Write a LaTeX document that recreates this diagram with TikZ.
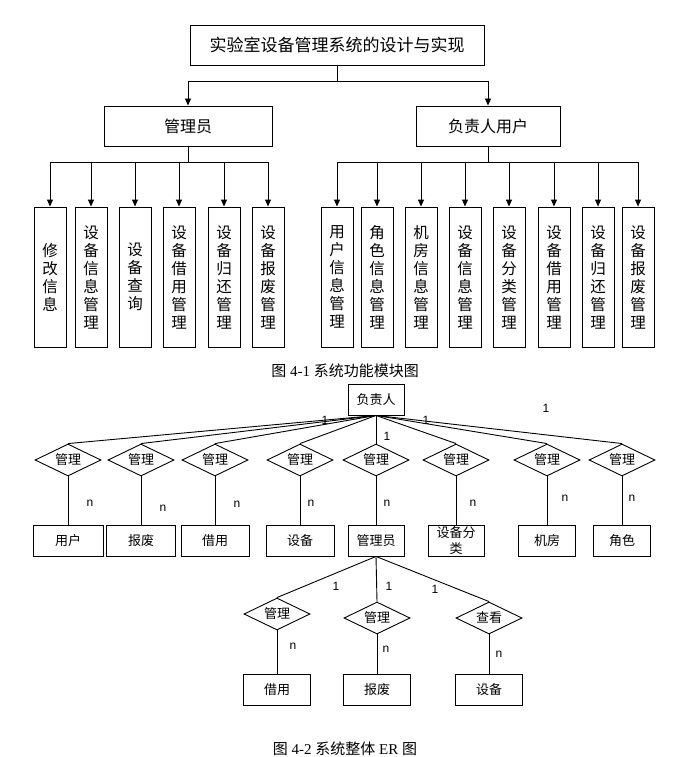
\documentclass[tikz,border=0pt]{standalone}
\usepackage{fontspec}
\setmainfont{Liberation Serif}
\newfontfamily\cjk{Noto Sans CJK SC}
\newfontfamily\arial{Liberation Sans}
\usetikzlibrary{arrows.meta,positioning,shapes.geometric}

\begin{document}
\begin{tikzpicture}[x=1pt,y=-1pt,line width=0.9pt,
box/.style={draw,inner sep=0pt,minimum height=40pt,font=\cjk\fontsize{16}{18}\selectfont},
vbox/.style={draw,minimum width=32pt,minimum height=140pt,inner sep=0pt,align=center,font=\cjk\fontsize{15.5}{18}\selectfont},
ent/.style={draw,minimum width=68pt,minimum height=31pt,inner sep=0pt,align=center,font=\cjk\fontsize{13}{16}\selectfont},
rel/.style={diamond,draw,aspect=2,inner sep=0pt,minimum width=66pt,minimum height=32pt,font=\cjk\fontsize{13}{16}\selectfont},
num/.style={inner sep=0pt,font=\arial\fontsize{12}{12}\selectfont},
arr/.style={-{Triangle[length=7pt,width=6pt]}},
figcap/.style={font=\fontsize{15}{17}\selectfont}]
\useasboundingbox (0,0) rectangle (697,757);
% function modules
\node[box,minimum width=294pt,font=\cjk\fontsize{17}{20}\selectfont] (sys) at (337,45) {实验室设备管理系统的设计与实现};
\node[box,minimum width=168pt] (adm) at (188,126) {管理员};
\node[box,minimum width=144pt] (usr) at (488,126) {负责人用户};
\draw[arr] (sys.south) -- ++(0,16) -| (adm);
\draw[arr] (sys.south) -- ++(0,16) -| (usr);
\foreach \x/\t [count=\i] in {50/修\\改\\信\\息,91/设\\备\\信\\息\\管\\理,135/设\\备\\查\\询,179/设\\备\\借\\用\\管\\理,224/设\\备\\归\\还\\管\\理,268/设\\备\\报\\废\\管\\理}{
  \node[vbox] (a\i) at (\x,277) {\t};
  \draw[arr] (adm.south) -- ++(0,16) -| (a\i);
}
\foreach \x/\t [count=\i] in {337/用\\户\\信\\息\\管\\理,377/角\\色\\信\\息\\管\\理,421/机\\房\\信\\息\\管\\理,465/设\\备\\信\\息\\管\\理,509/设\\备\\分\\类\\管\\理,554/设\\备\\借\\用\\管\\理,598/设\\备\\归\\还\\管\\理,638/设\\备\\报\\废\\管\\理}{
  \node[vbox] (b\i) at (\x,277) {\t};
  \draw[arr] (usr.south) -- ++(0,16) -| (b\i);
}
\node[figcap] (cap1) at (345,371) {{\cjk 图} 4-1 {\cjk 系统功能模块图}};
% ER diagram
\node[ent,minimum width=56pt] (boss) at (376,399.5) {负责人};
\foreach \x/\w/\t [count=\i] in {68/70/用户,141/69/报废,215/68/借用,300/68/设备,376/56/管理员,456/56/设备分\\类,547/57/机房,622/57/角色}{
  \node[rel] (r\i) at (\x,460) {管理};
  \node[ent,minimum width=\w pt] (e\i) at (\x,540.5) {\t};
  \draw (boss.south) -- (r\i.north);
  \draw (r\i) -- (e\i);
}
\foreach \x/\y/\t/\u [count=\i] in {277/614/管理/借用,377/618/管理/报废,489/618/查看/设备}{
  \node[rel] (s\i) at (\x,\y) {\t};
  \node[ent,minimum width=67pt] (f\i) at (\x,690) {\u};
  \draw (e5.south) -- (s\i.north);
  \draw (s\i) -- (f\i);
}
\foreach \p [count=\i] in {(325,420),(426,420),(387,436),(546,408),(336,586),(389,586),(435,589)}
  \node[num] (o\i) at \p {1};
\foreach \p [count=\i] in {(90,503),(163,508),(237,504),(311,503),(387,503),(473,503),(565,498),(632,498),(293,646),(386,649),(499,654)}
  \node[num] (n\i) at \p {n};
\node[figcap] (cap2) at (345,749) {{\cjk 图} 4-2 {\cjk 系统整体} ER {\cjk 图}};
\end{tikzpicture}
\end{document}
